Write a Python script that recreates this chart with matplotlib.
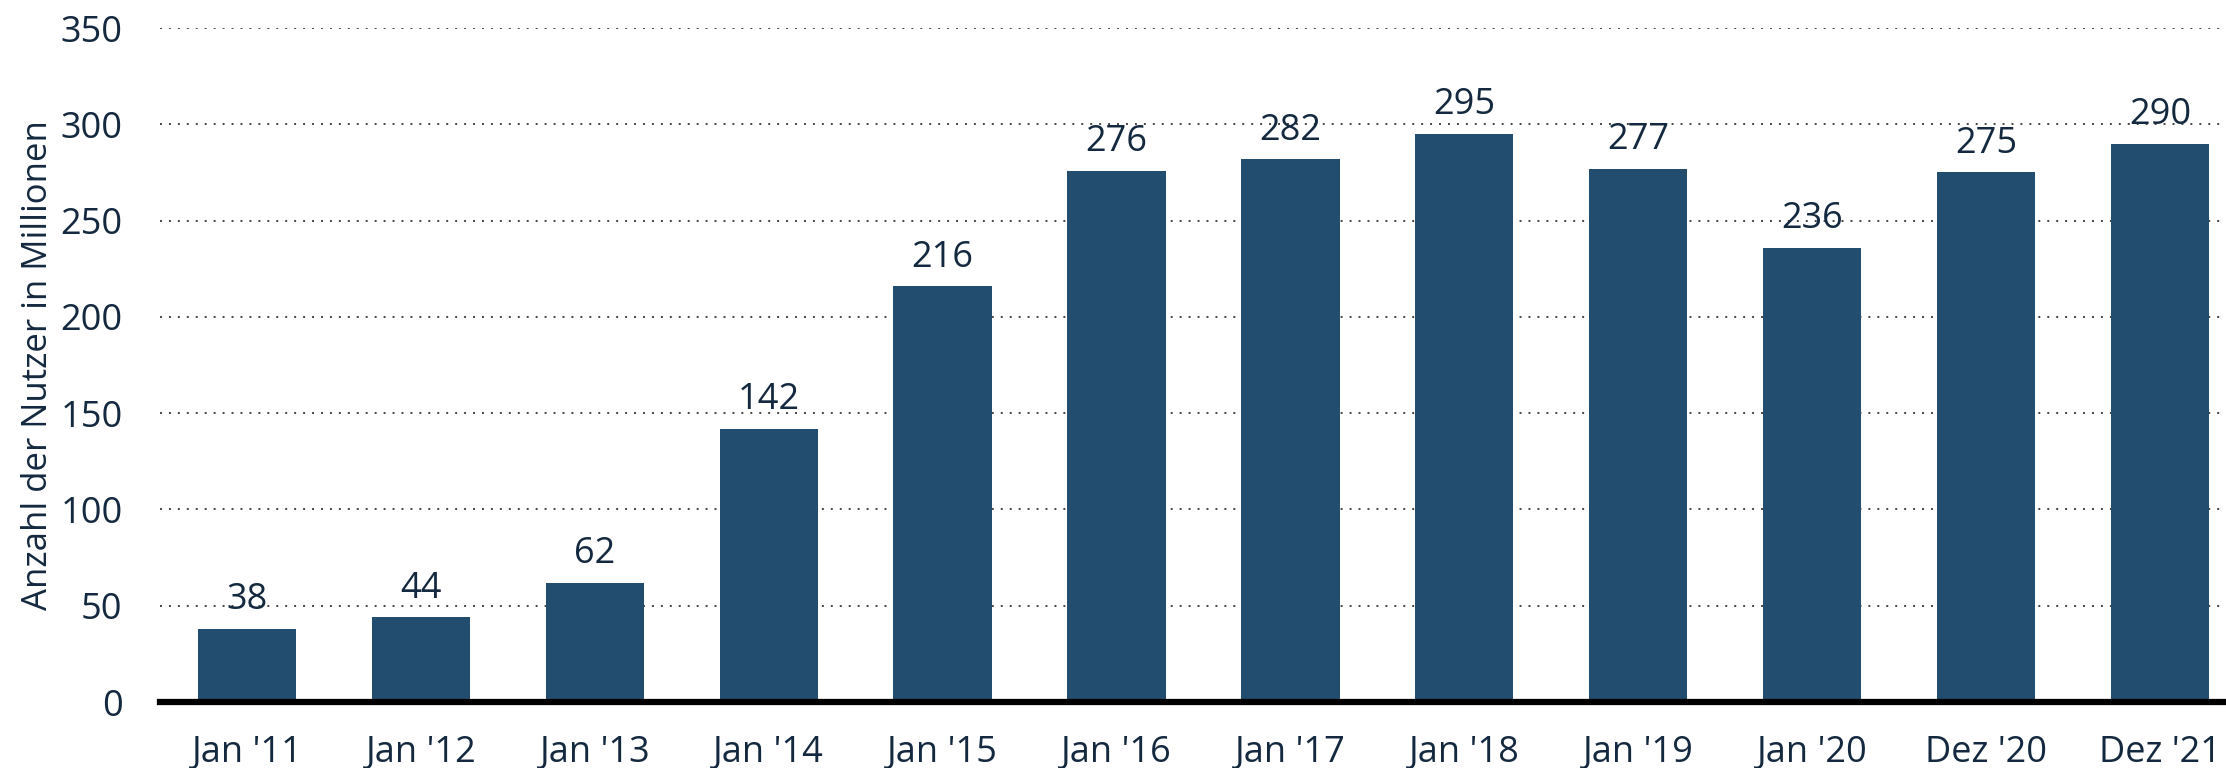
import matplotlib
matplotlib.use("Agg")
import matplotlib.pyplot as plt

categories = ["Jan '11", "Jan '12", "Jan '13", "Jan '14", "Jan '15", "Jan '16",
              "Jan '17", "Jan '18", "Jan '19", "Jan '20", "Dez '20", "Dez '21"]
values = [38, 44, 62, 142, 216, 276, 282, 295, 277, 236, 275, 290]
yticks = [0, 50, 100, 150, 200, 250, 300, 350]
ylabel = "Anzahl der Nutzer in Millionen"

plt.rcParams['font.family'] = ['Open Sans', 'DejaVu Sans']
text_color = "#14293f"
bar_color = "#224d6e"

fig = plt.figure(figsize=(22.26, 7.68), dpi=100)
ax = fig.add_axes([160/2226, 66/768, 1 - 160/2226, (702-28)/768])

x = list(range(len(categories)))
ax.bar(x, values, width=0.565, color=bar_color, zorder=2)

for xi, v in zip(x, values):
    ax.annotate(str(v), (xi, v), xytext=(0, 14), textcoords='offset points',
                ha='center', va='baseline', fontsize=26, color=text_color, zorder=4)

ax.set_ylim(0, 350)
ax.set_xlim(-0.5, 11.38)
ax.set_yticks(yticks)
ax.set_yticklabels([str(t) for t in yticks])
ax.set_xticks(x)
ax.set_xticklabels(categories)

ax.grid(axis='y', linestyle=(0, (1, 3.6)), color='#444444', linewidth=1.4, zorder=1)
ax.set_axisbelow(True)
ax.axhline(0, color='black', linewidth=4.5, zorder=3, clip_on=False)

for s in ax.spines.values():
    s.set_visible(False)

ax.tick_params(axis='both', length=0, labelsize=26, labelcolor=text_color)
ax.tick_params(axis='y', pad=27)
ax.tick_params(axis='x', pad=24)

ax.set_ylabel(ylabel, fontsize=25, color=text_color)
ax.yaxis.set_label_coords(-105/2066, 0.5)

fig.savefig("out.png", dpi=100)
